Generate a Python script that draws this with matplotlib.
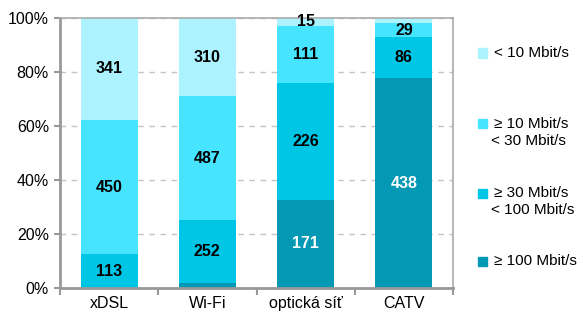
import numpy as np
import matplotlib
matplotlib.use('Agg')
import matplotlib.pyplot as plt
from matplotlib.patches import Rectangle

plt.rcParams['font.family'] = ['Liberation Sans', 'DejaVu Sans']

categories = ['xDSL', 'Wi-Fi', 'optická síť', 'CATV']
series_names = ['≥ 100 Mbit/s', '≥ 30 Mbit/s\n< 100 Mbit/s',
                '≥ 10 Mbit/s\n< 30 Mbit/s', '< 10 Mbit/s']
v_100 = [0, 18, 171, 438]
v_30 = [113, 252, 226, 86]
v_10 = [450, 487, 111, 29]
v_lt10 = [341, 310, 15, 11]
colors = ['#0399B4', '#00C6E6', '#47E4FF', '#ADF3FF']
label_colors = ['white', 'black', 'black', 'black']

data = np.array([v_100, v_30, v_10, v_lt10], dtype=float)
totals = data.sum(axis=0)
pct = data / totals * 100

fig = plt.figure(figsize=(5.83, 3.13), dpi=100)
ax = fig.add_axes([60/583, 25/313, 393/583, 270/313])

x = np.arange(len(categories))
bottom = np.zeros(len(categories))
for i in range(4):
    ax.bar(x, pct[i], 0.58, bottom=bottom, color=colors[i], zorder=2)
    for j in range(len(categories)):
        if pct[i][j] > 2.5:
            ax.text(x[j], bottom[j] + pct[i][j] / 2, str(int(data[i][j])),
                    ha='center', va='center', fontsize=11.5, fontweight='bold',
                    color=label_colors[i], zorder=3)
    bottom += pct[i]

ax.set_xlim(-0.5, 3.5)
ax.set_ylim(0, 100)
ax.set_yticks(range(0, 101, 20))
ax.set_yticklabels([f'{t}%' for t in range(0, 101, 20)], fontsize=11.5)
ax.set_xticks(x)
ax.set_xticklabels(categories, fontsize=11.5)
ax.tick_params(axis='x', length=0, pad=6)
ax.set_xticks(np.arange(-0.5, 3.6, 1), minor=True)
ax.tick_params(axis='x', which='minor', length=5, color='#999999', width=1.5)
ax.tick_params(axis='y', length=4, color='#999999', width=1.5, pad=4)
ax.yaxis.grid(True, linestyle=(0, (4, 4)), color='#c4c4c4', linewidth=1, zorder=0)

for side in ['left', 'bottom']:
    ax.spines[side].set_color('#999999')
    ax.spines[side].set_linewidth(2)
for side in ['top', 'right']:
    ax.spines[side].set_color('#aaaaaa')
    ax.spines[side].set_linewidth(1.2)

# legend drawn by hand, top to bottom
leg_y = [53, 124, 193, 261]
for k, idx in enumerate([3, 2, 1, 0]):
    y = 313 - leg_y[k]
    fig.patches.append(Rectangle((478 / 583, (y - 4.5) / 313), 9 / 583, 9 / 313,
                                 transform=fig.transFigure, color=colors[idx]))
    lines = series_names[idx].split('\n')
    fig.text(494 / 583, y / 313, lines[0], fontsize=11, va='center', ha='left')
    if len(lines) > 1:
        fig.text(491 / 583, (y - 17) / 313, lines[1], fontsize=11, va='center', ha='left')

fig.savefig('out.png', dpi=100)
